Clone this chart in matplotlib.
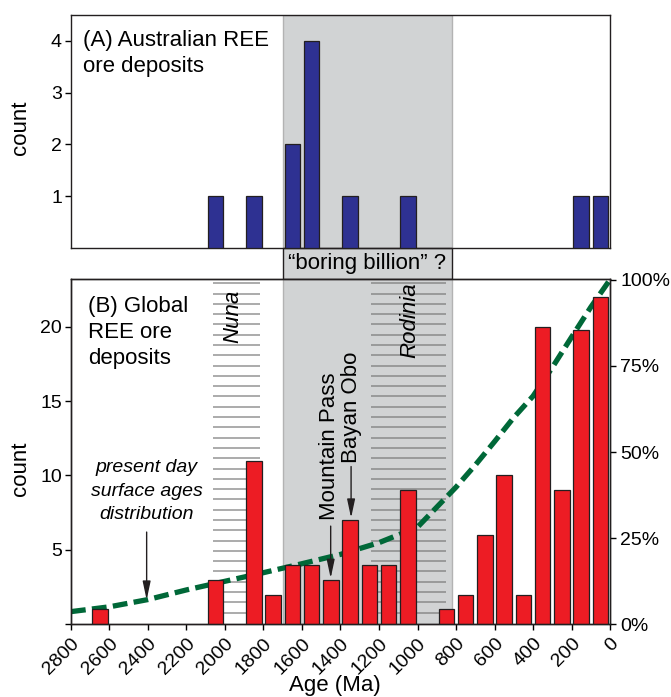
import matplotlib
matplotlib.use("Agg")
import matplotlib.pyplot as plt
import matplotlib.transforms as mtransforms
from matplotlib.patches import Rectangle
import numpy as np

plt.rcParams['font.family'] = ['Liberation Sans', 'DejaVu Sans']

# (A) Australian deposits, 100 Ma bins (bin centres)
aus_ages = [2050, 1850, 1650, 1550, 1350, 1050, 150, 50]
aus_counts = [1, 1, 2, 4, 1, 1, 1, 1]

# (B) global deposits
glob_ages = [2650, 2050, 1850, 1750, 1650, 1550, 1450, 1350, 1250, 1150,
             1050, 850, 750, 650, 550, 450, 350, 250, 150, 50]
glob_counts = [1, 3, 11, 2, 4, 4, 3, 7, 4, 4,
               9, 1, 2, 6, 10, 2, 20, 9, 19.8, 22]

# present day surface ages distribution (cumulative %)
surf_ages = [2800, 2600, 2400, 2200, 2000, 1800, 1600, 1400, 1200, 1000,
             900, 800, 700, 600, 500, 400, 300, 200, 100, 0]
surf_pct = [3.7, 5.1, 7.2, 10.0, 12.5, 15.0, 17.6, 20.3, 23.7, 28.2,
            34.0, 39.8, 46.2, 53.0, 60.0, 66.2, 74.5, 83.3, 92.0, 100]

boring = (1700, 820)
nuna = (2060, 1820)
rodinia = (1242, 852)

RED = '#ed1c24'
BLUE = '#2e3192'
GREY = '#d1d3d4'
GREEN = '#006838'
EDGE = '#231f20'

fig = plt.figure(figsize=(6.71, 6.97), dpi=100)
ax1 = fig.add_axes([0.1058, 0.6442, 0.8033, 0.3343])
ax2 = fig.add_axes([0.1058, 0.1042, 0.8033, 0.4956])
ax3 = ax2.twinx()

for ax in (ax1, ax2):
    ax.axvspan(boring[0], boring[1], facecolor=GREY, edgecolor='#b3b3b3', lw=1, zorder=0)
    ax.set_xlim(2800, 0)
    for s in ax.spines.values():
        s.set_linewidth(1.0)
        s.set_color(EDGE)

# top panel
ax1.bar(aus_ages, aus_counts, width=80, color=BLUE, edgecolor=EDGE, lw=0.9, zorder=3)
ax1.set_ylim(0, 4.5)
ax1.set_yticks([1, 2, 3, 4])
ax1.set_xticks([])
ax1.tick_params(axis='y', direction='out', length=4.5, width=1, labelsize=14, pad=2)
ax1.set_ylabel('count', fontsize=16)
ax1.yaxis.set_label_coords(-0.075, 0.517)
ax1.text(0.023, 0.935, '(A) Australian REE\nore deposits', transform=ax1.transAxes,
         fontsize=16, va='top', ha='left', linespacing=1.33)

# "boring billion" box between the panels
trans = mtransforms.blended_transform_factory(ax1.transData, ax1.transAxes)
ax1.add_patch(Rectangle((boring[0], -0.132), boring[1] - boring[0], 0.132,
                        transform=trans, facecolor=GREY, edgecolor=EDGE,
                        lw=1, clip_on=False, zorder=1))
ax1.text(sum(boring) / 2, -0.066, '\u201cboring billion\u201d ?', transform=trans,
         ha='center', va='center', fontsize=16)

# bottom panel
hatch_y = np.linspace(0.79, 22.91, 33)
ax2.hlines(hatch_y, nuna[0], nuna[1], color='#959595', lw=1.1, zorder=1)
ax2.hlines(hatch_y, rodinia[0], rodinia[1], color='#8a8a8a', lw=1.1, zorder=1)

ax3.set_ylim(0, 100.2)
ax2.plot(surf_ages, surf_pct, transform=ax3.transData, color=GREEN, lw=3.8,
         dashes=(2.8, 1.2), solid_capstyle='butt', dash_capstyle='butt', zorder=2)
ax2.bar(glob_ages, glob_counts, width=80, color=RED, edgecolor=EDGE, lw=0.9, zorder=3)

ax2.set_ylim(0, 23.2)
ax2.set_xlim(2800, 0)
ax2.set_yticks([0, 5, 10, 15, 20])
ax2.set_yticklabels(['', '5', '10', '15', '20'])
ax2.set_xticks(np.arange(0, 2801, 200))
ax2.set_xticklabels([str(v) for v in np.arange(0, 2801, 200)],
                    rotation=45, ha='right', rotation_mode='anchor')
ax2.tick_params(direction='out', length=4.5, width=1, labelsize=14, pad=2)
ax2.tick_params(axis='x', pad=3)
ax2.set_ylabel('count', fontsize=16)
ax2.yaxis.set_label_coords(-0.075, 0.45)
ax2.text(0.49, -0.178, 'Age (Ma)', transform=ax2.transAxes, ha='center',
         va='center', fontsize=16)

ax3.set_yticks([0, 25, 50, 75, 100])
ax3.set_yticklabels(['0%', '25%', '50%', '75%', '100%'])
ax3.tick_params(direction='out', length=4.5, width=1, labelsize=14, pad=3)
for s in ax3.spines.values():
    s.set_linewidth(1.0)
    s.set_color(EDGE)

ax2.text(0.031, 0.95, '(B) Global\nREE ore\ndeposits', transform=ax2.transAxes,
         fontsize=16, va='top', ha='left', linespacing=1.31)
ax2.text(1958, 22.5, 'Nuna', rotation=90, style='italic', fontsize=16,
         ha='center', va='top', zorder=4)
ax2.text(1039, 22.95, 'Rodinia', rotation=90, style='italic', fontsize=16,
         ha='center', va='top', zorder=4)
ax2.text(1455, 7.0, 'Mountain Pass', rotation=90, fontsize=16,
         ha='center', va='bottom', zorder=4)
ax2.text(1342, 10.85, 'Bayan Obo', rotation=90, fontsize=16,
         ha='center', va='bottom', zorder=4)
ax2.text(2407, 11.1, 'present day\nsurface ages\ndistribution', style='italic',
         fontsize=14, ha='center', va='top', linespacing=1.5, zorder=4)

arrow = dict(arrowstyle='-|>,head_length=0.8,head_width=0.17', color=EDGE, lw=1,
             mutation_scale=14, shrinkA=0, shrinkB=0)
ax2.annotate('', xy=(2407, 1.64), xytext=(2407, 6.2), arrowprops=arrow, zorder=4)
ax2.annotate('', xy=(1451, 3.1), xytext=(1451, 6.6), arrowprops=arrow, zorder=4)
ax2.annotate('', xy=(1345, 7.15), xytext=(1345, 10.6), arrowprops=arrow, zorder=4)

fig.savefig('out.png', dpi=100)
